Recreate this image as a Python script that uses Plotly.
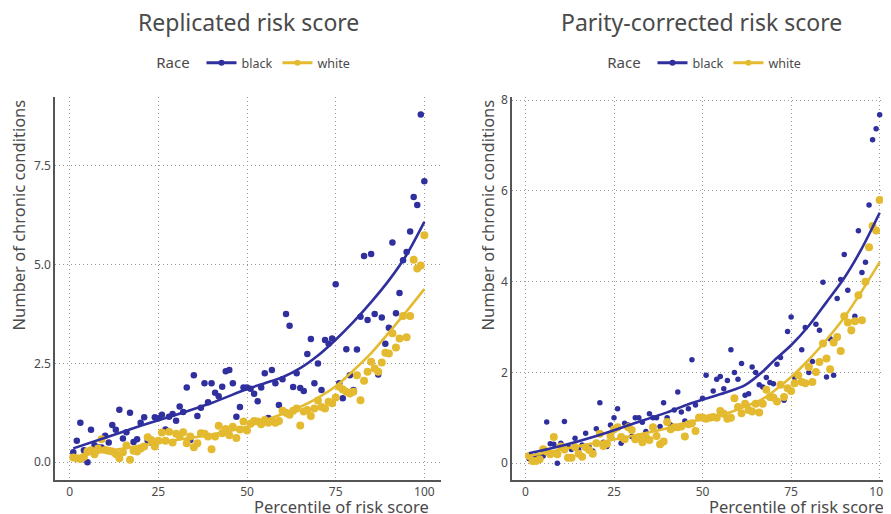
import plotly.graph_objects as go

pct = list(range(1, 101))

left_black = [0.25, 0.54, 1.0, 0.3, 0.0, 0.82, 0.43, 0.38, 0.37, 0.67,
              0.5, 0.94, 0.82, 1.33, 0.6, 0.76, 1.25, 0.51, 0.58, 1.0,
              1.14, 0.54, 0.5, 1.14, 1.11, 1.2, 0.83, 1.15, 1.22, 1.05,
              1.41, 1.27, 1.89, 0.56, 2.2, 1.17, 1.38, 2.0, 1.52, 2.0,
              1.76, 1.67, 1.91, 2.3, 2.33, 2.0, 1.15, 1.4, 1.89, 1.89,
              1.86, 1.73, 1.54, 1.89, 2.25, 1.12, 2.33, 2.0, 1.45, 2.1,
              3.75, 3.45, 1.9, 2.25, 1.88, 1.8, 2.74, 3.12, 2.0, 2.5,
              1.83, 3.09, 3.0, 3.13, 4.5, 2.0, 1.62, 2.86, 2.2, 1.83,
              2.85, 3.68, 5.22, 3.6, 5.27, 3.75, 2.22, 3.66, 3.0, 3.4,
              5.56, 3.77, 4.28, 5.11, 5.32, 5.84, 6.71, 6.51, 8.8, 7.11]

left_white = [0.12, 0.1, 0.08, 0.14, 0.27, 0.3, 0.2, 0.35, 0.58, 0.31,
              0.29, 0.27, 0.21, 0.1, 0.25, 0.42, 0.06, 0.29, 0.27, 0.35,
              0.4, 0.63, 0.56, 0.4, 0.54, 0.75, 0.54, 0.77, 0.5, 0.72,
              0.67, 0.76, 0.48, 0.65, 0.38, 0.48, 0.73, 0.72, 0.65, 0.33,
              0.65, 0.92, 0.73, 0.84, 0.68, 0.9, 0.61, 0.83, 1.03, 0.8,
              0.97, 1.04, 1.03, 0.96, 1.07, 1.0, 1.04, 1.0, 1.04, 1.3,
              1.25, 1.2, 1.3, 1.36, 0.93, 1.28, 1.32, 1.17, 1.36, 1.56,
              1.4, 1.36, 1.53, 1.49, 1.64, 1.91, 1.84, 1.78, 1.74, 1.78,
              2.2, 1.57, 2.06, 2.29, 2.54, 2.37, 2.29, 2.52, 2.77, 2.75,
              3.26, 2.9, 3.13, 3.7, 3.16, 3.7, 5.12, 4.9, 4.98, 5.74]

right_black = [0.1, 0.14, 0.16, 0.15, 0.16, 0.91, 0.43, 0.42, 0.0, 0.44,
               0.92, 0.38, 0.3, 0.55, 0.3, 0.4, 0.66, 0.35, 0.27, 0.76,
               1.33, 0.46, 0.37, 0.84, 1.0, 1.2, 0.44, 0.88, 0.84, 0.59,
               1.0, 1.0, 0.9, 0.7, 1.09, 1.0, 1.0, 0.81, 1.33, 1.0,
               0.84, 1.17, 1.57, 1.13, 0.93, 1.2, 2.28, 1.28, 1.0, 1.43,
               1.94, 1.0, 1.59, 1.85, 1.91, 1.64, 1.82, 2.5, 2.0, 1.85,
               2.2, 1.5, 1.53, 2.12, 2.0, 1.73, 1.68, 1.89, 1.78, 1.75,
               2.18, 2.33, 1.39, 2.9, 3.22, 1.89, 1.95, 2.5, 2.99, 2.0,
               2.24, 3.06, 2.93, 3.99, 1.9, 2.74, 1.94, 3.63, 4.05, 4.6,
               3.81, 2.9, 3.24, 5.12, 4.2, 4.43, 5.69, 7.13, 7.37, 7.68]

right_white = [0.16, 0.05, 0.05, 0.09, 0.31, 0.26, 0.2, 0.58, 0.2, 0.37,
               0.3, 0.12, 0.12, 0.35, 0.21, 0.14, 0.35, 0.29, 0.21, 0.44,
               0.65, 0.38, 0.43, 0.6, 0.75, 0.79, 0.58, 0.53, 0.79, 0.73,
               0.53, 0.57, 0.46, 0.58, 0.51, 0.79, 0.6, 0.42, 0.48, 0.91,
               0.75, 0.79, 0.79, 0.81, 0.59, 0.86, 0.88, 0.71, 1.01, 1.01,
               0.98, 1.0, 1.02, 1.0, 1.15, 1.09, 0.98, 1.0, 1.43, 1.24,
               1.1, 1.31, 1.17, 1.14, 1.31, 1.12, 1.31, 1.62, 1.46, 1.45,
               1.36, 1.73, 1.46, 1.65, 1.59, 1.76, 1.94, 1.79, 1.76, 2.12,
               1.79, 2.01, 2.23, 2.64, 2.31, 2.07, 2.66, 2.78, 2.47, 3.24,
               3.1, 2.93, 3.13, 3.7, 3.15, 4.0, 4.76, 5.23, 5.13, 5.8]

fit_pct_left = [1, 10, 20, 30, 40, 50, 55, 60, 65, 70, 75, 80, 85, 90, 95, 100]
left_black_fit = [0.35, 0.62, 0.92, 1.2, 1.5, 1.85, 2.0, 2.15, 2.38, 2.7, 3.1, 3.55, 4.05, 4.6, 5.25, 6.08]
left_white_fit = [0.13, 0.27, 0.42, 0.56, 0.7, 0.9, 1.06, 1.22, 1.4, 1.63, 1.92, 2.32, 2.76, 3.28, 3.82, 4.38]

fit_pct_right = [1, 10, 20, 30, 40, 46, 52, 57, 62, 67, 70, 75, 80, 85, 90, 95, 100]
right_black_fit = [0.22, 0.38, 0.6, 0.86, 1.12, 1.3, 1.45, 1.57, 1.72, 2.02, 2.25, 2.6, 3.03, 3.55, 4.08, 4.74, 5.52]
right_white_fit = [0.16, 0.3, 0.45, 0.6, 0.77, 0.9, 1.0, 1.1, 1.25, 1.42, 1.58, 1.9, 2.28, 2.72, 3.21, 3.8, 4.43]

x_ticks = [0, 25, 50, 75, 100]
left_y_ticks = [0, 2.5, 5, 7.5]
left_y_labels = ["0.0", "2.5", "5.0", "7.5"]
right_y_ticks = [0, 2, 4, 6, 8]

BLUE = "#2F2F9E"
YELLOW = "#E3BA30"
FONT = "Noto Sans"
TXT = "#4a4a4a"

# the page body has an 8px default margin; lay the figure out in window pixels minus that offset
OFF = 8
W, H = 891 - OFF, 514 - OFF
PL, PR, PT, PB = 55 - OFF, 891 - OFF, 97 - OFF, 480 - OFF   # plot area in figure pixels
PW, PH = PR - PL, PB - PT


def px_x(x):  # window pixel -> paper x
    return (x - OFF - PL) / PW


def px_y(y):  # window pixel -> paper y
    return (PB - (y - OFF)) / PH


fig = go.Figure()


def add_panel(xa, ya, black, white, fpct, bfit, wfit, bsize, wsize, legend):
    fig.add_trace(go.Scatter(x=pct, y=black, mode="markers", xaxis=xa, yaxis=ya,
                             marker=dict(color=BLUE, size=bsize), showlegend=False, legend=legend))
    fig.add_trace(go.Scatter(x=pct, y=white, mode="markers", xaxis=xa, yaxis=ya,
                             marker=dict(color=YELLOW, size=wsize), showlegend=False, legend=legend))
    fig.add_trace(go.Scatter(x=fpct, y=bfit, mode="lines", xaxis=xa, yaxis=ya,
                             line=dict(color=BLUE, width=2.6, shape="spline", smoothing=0.8),
                             showlegend=False, legend=legend))
    fig.add_trace(go.Scatter(x=fpct, y=wfit, mode="lines", xaxis=xa, yaxis=ya,
                             line=dict(color=YELLOW, width=2.6, shape="spline", smoothing=0.8),
                             showlegend=False, legend=legend))
    for name, col in (("black", BLUE), ("white", YELLOW)):
        fig.add_trace(go.Scatter(x=[None], y=[None], mode="lines+markers", name=name,
                                 xaxis=xa, yaxis=ya, line=dict(color=col, width=3),
                                 marker=dict(color=col, size=6), legend=legend))


add_panel("x", "y", left_black, left_white, fit_pct_left, left_black_fit, left_white_fit, 6.5, 8, "legend")
add_panel("x2", "y2", right_black, right_white, fit_pct_right, right_black_fit, right_white_fit, 5.5, 8, "legend2")

axis_common = dict(showgrid=True, gridcolor="#999999", griddash="1px,3px", gridwidth=1,
                   zeroline=False, showline=True, linecolor="#555555", linewidth=1.5,
                   ticks="", tickfont=dict(family=FONT, size=12, color=TXT), mirror=False,
                   ticklabeloverflow="allow")

L_DOM = [0.0, px_x(441)]
R_DOM = [px_x(512), 1.0]

leg_common = dict(orientation="h", xanchor="center", y=px_y(63), yanchor="middle",
                  title=dict(text="Race ", font=dict(family=FONT, size=15, color=TXT)),
                  font=dict(family=FONT, size=12.5, color=TXT), itemwidth=30,
                  bgcolor="rgba(0,0,0,0)", tracegroupgap=0)

fig.update_layout(
    width=W, height=H,
    margin=dict(l=PL, r=W - PR, t=PT, b=H - PB, autoexpand=False),
    paper_bgcolor="white", plot_bgcolor="white",
    font=dict(family=FONT, color=TXT),
    xaxis=dict(domain=L_DOM, range=[-4.15, 104.7], tickvals=x_ticks, anchor="y", **axis_common),
    yaxis=dict(domain=[0, 1], range=[-0.45, 9.24], tickvals=left_y_ticks, ticktext=left_y_labels,
               anchor="x", **axis_common),
    xaxis2=dict(domain=R_DOM, range=[-3.8, 103.2], tickvals=x_ticks, anchor="y2", **axis_common),
    yaxis2=dict(domain=[0, 1], range=[-0.37, 8.07], tickvals=right_y_ticks, anchor="x2", **axis_common),
    legend=dict(x=sum(L_DOM) / 2 + 0.008, **leg_common),
    legend2=dict(x=sum(R_DOM) / 2 + 0.005, **leg_common),
)

for text, dom in (("Replicated risk score", L_DOM), ("Parity-corrected risk score", R_DOM)):
    fig.add_annotation(text=text, xref="paper", x=sum(dom) / 2, xanchor="center",
                       yref="paper", y=px_y(22), yanchor="middle",
                       showarrow=False, font=dict(family=FONT, size=23, color=TXT))

# x-axis titles (right aligned)
for xr in (431, 886):
    fig.add_annotation(text="Percentile of risk score", xref="paper", x=px_x(xr), xanchor="right",
                       yref="paper", y=px_y(506.5), yanchor="middle", showarrow=False,
                       font=dict(family=FONT, size=16.5, color=TXT))

# y-axis titles (top aligned)
for xp in (18, 487):
    fig.add_annotation(text="Number of chronic conditions", xref="paper", x=px_x(xp), xanchor="center",
                       yref="paper", y=px_y(98), yanchor="top", textangle=-90, showarrow=False,
                       font=dict(family=FONT, size=16.5, color=TXT))

fig.write_html("out.html")
